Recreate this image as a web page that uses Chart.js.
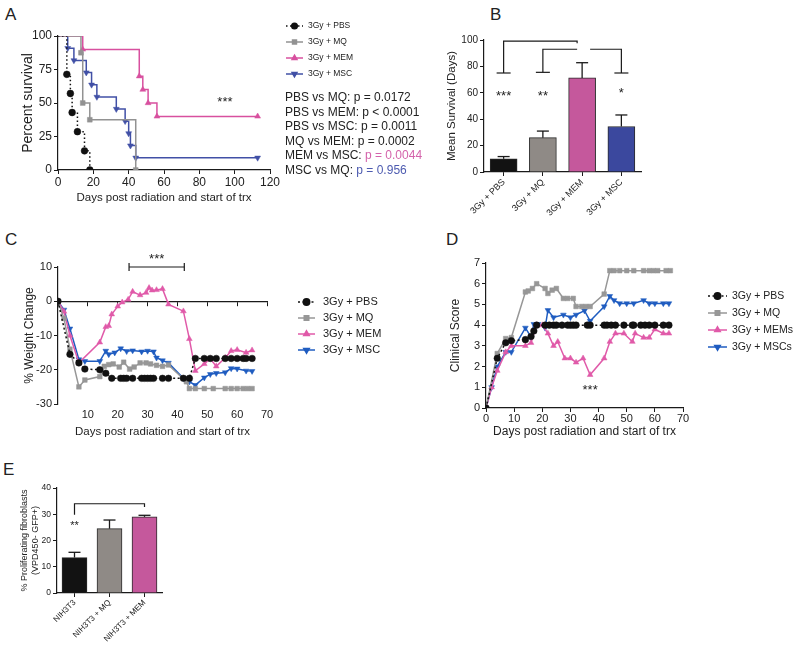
<!DOCTYPE html>
<html>
<head>
<meta charset="utf-8">
<script src="https://cdn.jsdelivr.net/npm/chart.js@4.4.1/dist/chart.umd.min.js"></script>
<style>
  body { margin:0; background:#fff; width:800px; height:651px; overflow:hidden; position:relative;
         font-family:'Liberation Sans', Arial, sans-serif; color:#222; }
  canvas, .lbl, .pv { position:absolute; }
  .lbl { font-size:17px; line-height:20px; }
  .pv { left:285px; top:90px; font-size:12px; line-height:14.6px; white-space:nowrap; }
</style>
</head>
<body>
<div class="lbl" style="left:5px;top:5px">A</div>
<div class="lbl" style="left:490px;top:5px">B</div>
<div class="lbl" style="left:5px;top:230px">C</div>
<div class="lbl" style="left:446px;top:230px">D</div>
<div class="lbl" style="left:3px;top:460px">E</div>

<canvas id="cA" width="480" height="210" style="left:0;top:0"></canvas>
<canvas id="cB" width="230" height="270" style="left:420px;top:0"></canvas>
<canvas id="cC" width="400" height="230" style="left:0;top:215px"></canvas>
<canvas id="cD" width="400" height="230" style="left:400px;top:215px"></canvas>
<canvas id="cE" width="200" height="206" style="left:0;top:445px"></canvas>

<div class="pv">
  PBS vs MQ: p = 0.0172<br>
  PBS vs MEM: p &lt; 0.0001<br>
  PBS vs MSC: p = 0.0011<br>
  MQ vs MEM: p = 0.0002<br>
  MEM vs MSC: <span style="color:#d463ab">p = 0.0044</span><br>
  MSC vs MQ: <span style="color:#4d5bb0">p = 0.956</span>
</div>

<script>
// ---------- data ----------
// A: survival curves [day, % surviving]
const survPBS = [[0,100],[5,71.4],[7,57.1],[8,42.9],[11,28.6],[15,14.3],[18,0]];
const survMQ  = [[0,100],[13,87.5],[14,50],[18,37.5],[44,0]];
const survMEM = [[0,100],[14,90],[46,70],[48,60],[51,50],[56,40],[113,40]];
const survMSC = [[0,100],[5.5,90.9],[9,81.8],[16,72.7],[19,63.6],[22,54.5],[33,45.5],[38,36.4],[40,27.3],[41,18.2],[44,9.1],[113,9.1]];

// B: mean survival
const survGroups = ['3Gy + PBS', '3Gy + MQ', '3Gy + MEM', '3Gy + MSC'];
const meanSurv = [10, 26, 71.3, 34.5];
const meanSurvErr = [1.7, 5, 11.5, 8.7];

// C: % weight change [day, value]
const wPBS = [[0,0],[4,-15.5],[7,-18],[9,-19.8],[14,-20],[16,-21],[18,-22.5],[21,-22.5],[22,-22.5],[23,-22.5],[25,-22.5],[28,-22.5],[29,-22.5],[30,-22.5],[31,-22.5],[32,-22.5],[35,-22.5],[37,-22.5],[42,-22.5],[44,-22.5],[46,-16.7],[49,-16.7],[51,-16.7],[53,-16.7],[56,-16.7],[58,-16.7],[60,-16.7],[62,-16.7],[63,-16.7],[65,-16.7]];
const wMQ  = [[0,0],[2,-5],[4,-14],[7,-25],[9,-23],[14,-22],[15.5,-19],[17,-18.5],[18.5,-18.3],[20.5,-19.2],[22,-17.8],[24,-19.8],[25.5,-19.2],[27.5,-18],[29.5,-18],[31,-18.3],[33,-18.7],[35,-19],[37,-18.6],[43,-23.5],[44,-25.5],[46,-25.5],[49,-25.5],[52,-25.5],[56,-25.5],[58,-25.5],[60,-25.5],[62,-25.5],[63.5,-25.5],[65,-25.5]];
const wMEM = [[0,0],[2,-3],[4,-10],[7,-18],[14,-12],[16,-7.5],[17,-7.2],[18,-3.8],[20,-1.5],[21.5,-0.3],[23.5,0.5],[25,2.8],[27.5,1.8],[29.5,2.5],[30.5,3.9],[31.5,3.2],[33,3.3],[35,3.6],[37,-0.9],[42,-2.9],[44,-11],[46,-20.3],[49,-18.3],[51,-16.8],[53,-19],[56,-16.5],[58,-14.5],[60,-14.2],[63,-15],[65,-14.3]];
const wMSC = [[0,0],[2,-2.5],[4,-8],[7,-17],[9,-17.5],[14,-17.5],[16,-14.5],[17,-15.5],[19,-15],[21,-13.8],[23,-14.6],[25,-14.4],[28,-14.7],[30,-14.5],[32,-14.7],[33,-16.5],[35,-17.3],[37,-18],[42,-22.5],[44,-23.5],[46,-24.5],[49,-22.3],[51,-21.3],[53,-21],[56,-20.8],[58,-19.6],[60,-19.7],[63,-20.3],[65,-20.4]];

// D: clinical score [day, score]
const sPBS = [[0,0],[4,2.4],[7,3.15],[9,3.25],[14,3.3],[16,3.45],[17,3.72],[18,4],[21,4],[22.5,4],[24,4],[25,4],[27,4],[29,4],[30,4],[31,4],[32,4],[36,4],[37,4],[42,4],[43,4],[44.5,4],[46,4],[49,4],[52,4],[52.5,4],[55,4],[56.5,4],[58,4],[60,4],[63,4],[65,4]];
const sMQ  = [[0,0],[4,2.63],[7,3.35],[9,3.4],[14,5.6],[15,5.65],[16.5,5.77],[18,6],[21,5.77],[22,5.53],[23.5,5.69],[25,5.77],[27.5,5.29],[29,5.29],[31,5.29],[32,4.9],[34,4.9],[35.5,4.9],[37,4.9],[42,5.5],[44,6.63],[45.5,6.63],[47.5,6.63],[50,6.63],[52.5,6.63],[56,6.63],[58,6.63],[59.5,6.63],[61,6.63],[64,6.63],[65.5,6.63]];
const sMEM = [[0,0],[2,1],[4,1.8],[7,2.7],[9,3],[14,3],[16,3.15],[18,4],[20,4],[22,3.6],[24,3],[25.5,3.2],[28,2.4],[30,2.4],[32,2.2],[34.5,2.4],[37,1.6],[42,2.4],[44,3.2],[46,3.6],[49,3.6],[52,3.2],[53,3.6],[56,3.4],[58,3.4],[60,3.8],[63,3.6],[65,3.6]];
const sMSC = [[0,0],[2,1],[4,2],[7,2.7],[9,2.7],[14,3.87],[16,3.43],[17,4.05],[18.5,4.05],[21,3.87],[22,4.72],[24,4.37],[27.5,4.5],[30,4.37],[32,4.5],[35,4.7],[37,4.2],[42,4.9],[44,5.4],[45.5,5.2],[47.5,5.05],[50,5.05],[52.5,5.05],[56,5.2],[58,5.05],[60,5.05],[63,5.05],[65,5.05]];

// E: proliferating fibroblasts
const fibGroups = ['NIH3T3', 'NIH3T3 + MQ', 'NIH3T3 + MEM'];
const fibVals = [13.5, 24.5, 29];
const fibErr = [2, 3.3, 0.6];

// ---------- shared setup ----------
const FONT = "'Liberation Sans', Arial, sans-serif";
Chart.defaults.font.family = FONT;
Chart.defaults.color = '#222';
Chart.defaults.animation = false;
Chart.defaults.responsive = false;
Chart.defaults.plugins.legend.display = false;
Chart.defaults.plugins.tooltip.enabled = false;

const INK = '#1a1a1a';
const pts = arr => arr.map(p => ({x: p[0], y: p[1]}));

function linAxis(o) {
  return {
    type: 'linear', min: o.min, max: o.max,
    position: o.position,
    ticks: {stepSize: o.step, font: {size: o.tick}, color: '#222', padding: o.tickPad ?? 2, callback: o.cb, display: o.showTicks !== false},
    grid: {display: o.grid !== false, drawOnChartArea: false, tickLength: 4, color: INK},
    border: {display: o.border !== false, color: INK, width: 1.2},
    title: {display: !!o.title, text: o.title, font: {size: o.tsize}, color: '#222', padding: o.tpad || 0},
    afterFit: s => { if (o.size) { if (o.isX) s.height = o.size; else s.width = o.size; } }
  };
}

function catAxis(size, fontSize) {
  return {
    type: 'category',
    ticks: {font: {size: fontSize}, color: '#222', maxRotation: 45, minRotation: 45, padding: 1, autoSkip: false},
    grid: {display: true, drawOnChartArea: false, tickLength: 4, color: INK, offset: false},
    border: {color: INK, width: 1.2},
    afterFit: s => { s.height = size; }
  };
}

function lineSet(label, data, color, style, rot, dash, stepped) {
  return {
    label, data: pts(data), borderColor: color, backgroundColor: color,
    pointBackgroundColor: color, pointBorderColor: color,
    borderWidth: 1.5, borderDash: dash || [], stepped: stepped || false,
    pointStyle: style, pointRotation: rot || 0, pointRadius: 3.3, pointBorderWidth: 0.5,
    tension: 0, fill: false
  };
}

function poly(ctx, list, w) {
  ctx.strokeStyle = INK; ctx.lineWidth = w || 1.2; ctx.setLineDash([]);
  ctx.beginPath();
  list.forEach((p, i) => i ? ctx.lineTo(p[0], p[1]) : ctx.moveTo(p[0], p[1]));
  ctx.stroke();
}

function stars(ctx, txt, x, y, size) {
  ctx.fillStyle = '#222'; ctx.font = size + 'px ' + FONT;
  ctx.textAlign = 'center'; ctx.textBaseline = 'middle';
  ctx.fillText(txt, x, y + size * 0.25);
}

function drawLegend(chart, x, y0, dy, len, tx, size, r) {
  const ctx = chart.ctx;
  chart.data.datasets.forEach((ds, i) => {
    const y = y0 + i * dy;
    ctx.strokeStyle = ds.borderColor; ctx.lineWidth = 1.5; ctx.setLineDash(ds.borderDash || []);
    ctx.beginPath(); ctx.moveTo(x, y); ctx.lineTo(x + len, y); ctx.stroke();
    ctx.setLineDash([]);
    ctx.fillStyle = ds.borderColor; ctx.strokeStyle = ds.borderColor;
    Chart.helpers.drawPoint(ctx, {pointStyle: ds.pointStyle, rotation: ds.pointRotation, radius: r, borderWidth: 0.5}, x + len / 2, y);
    ctx.fillStyle = '#222'; ctx.font = size + 'px ' + FONT;
    ctx.textAlign = 'left'; ctx.textBaseline = 'middle';
    ctx.fillText(ds.label, tx, y);
  });
}

function errorBars(chart, vals, errs, cap) {
  const ctx = chart.ctx, y = chart.scales.y;
  chart.getDatasetMeta(0).data.forEach((bar, i) => {
    const top = y.getPixelForValue(vals[i] + errs[i]);
    poly(ctx, [[bar.x, bar.y], [bar.x, top]], 1.3);
    poly(ctx, [[bar.x - cap, top], [bar.x + cap, top]], 1.3);
  });
}

// ---------- A: Kaplan-Meier ----------
new Chart(document.getElementById('cA'), {
  type: 'line',
  data: {datasets: [
    lineSet('3Gy + PBS', survPBS, '#111', 'circle', 0, [1.5, 2.5], 'before'),
    lineSet('3Gy + MQ', survMQ, '#929292', 'rect', 0, null, 'before'),
    lineSet('3Gy + MEM', survMEM, '#d8509f', 'triangle', 0, null, 'before'),
    lineSet('3Gy + MSC', survMSC, '#4150a6', 'triangle', 180, null, 'before')
  ].map(ds => Object.assign(ds, {pointRadius: c => c.dataIndex === 0 ? 0 : 3.4}))},
  options: {
    layout: {padding: {left: 0, top: 36, right: 210, bottom: 0}},
    scales: {
      x: linAxis({min: 0, max: 120, step: 20, tick: 12, tickPad: 1, title: 'Days post radiation and start of trx', tsize: 11.5, tpad: 5, size: 40, isX: true}),
      y: linAxis({min: 0, max: 100, step: 25, tick: 12, title: 'Percent survival', tsize: 14, tpad: 20, size: 58})
    }
  },
  plugins: [{id: 'extrasA', afterDraw(chart) {
    const ctx = chart.ctx, x = chart.scales.x, y = chart.scales.y;
    ctx.save();
    stars(ctx, '***', x.getPixelForValue(94.5), y.getPixelForValue(53), 13);
    drawLegend(chart, 286, 26, 16, 17, 308, 8.5, 2.8);
    ctx.restore();
  }}]
});

// ---------- B: mean survival ----------
new Chart(document.getElementById('cB'), {
  type: 'bar',
  data: {labels: survGroups, datasets: [{
    data: meanSurv, backgroundColor: ['#121212', '#8f8a86', '#c5589c', '#3b489e'],
    borderColor: '#2a2a2a', borderWidth: 1, barThickness: 27
  }]},
  options: {
    layout: {padding: {left: 0, top: 40, right: 9, bottom: 0}},
    scales: {
      x: catAxis(98, 9),
      y: linAxis({min: 0, max: 100, step: 20, tick: 10, title: 'Mean Survival (Days)', tsize: 11.5, tpad: 25, size: 64})
    }
  },
  plugins: [{id: 'extrasB', afterDraw(chart) {
    const ctx = chart.ctx, x = chart.scales.x, y = chart.scales.y;
    const X = i => x.getPixelForValue(i), Y = v => y.getPixelForValue(v);
    ctx.save();
    errorBars(chart, meanSurv, meanSurvErr, 6);
    poly(ctx, [[X(0), Y(75)], [X(0), Y(99.2)], [X(2) - 5, Y(99.2)], [X(2) - 5, Y(97.5)]]);
    poly(ctx, [[X(0) - 7, Y(75)], [X(0) + 7, Y(75)]]);
    poly(ctx, [[X(1), Y(75.5)], [X(1), Y(93)], [X(2) - 5, Y(93)]]);
    poly(ctx, [[X(1) - 7, Y(75.5)], [X(1) + 7, Y(75.5)]]);
    poly(ctx, [[X(2) + 8, Y(93)], [X(3), Y(93)], [X(3), Y(75)]]);
    poly(ctx, [[X(3) - 7, Y(75)], [X(3) + 7, Y(75)]]);
    stars(ctx, '***', X(0), Y(60), 13);
    stars(ctx, '**', X(1), Y(60), 13);
    stars(ctx, '*', X(3), Y(62), 13);
    ctx.restore();
  }}]
});

// ---------- C: weight change ----------
new Chart(document.getElementById('cC'), {
  type: 'line',
  data: {datasets: [
    lineSet('3Gy + PBS', wPBS, '#111', 'circle', 0, [2, 2.5]),
    lineSet('3Gy + MQ', wMQ, '#979797', 'rect'),
    lineSet('3Gy + MEM', wMEM, '#e05aa9', 'triangle'),
    lineSet('3Gy + MSC', wMSC, '#1f5cc0', 'triangle', 180)
  ]},
  options: {
    layout: {padding: {left: 0, top: 52, right: 133, bottom: 0}},
    scales: {
      x: linAxis({min: 0, max: 70, step: 10, tick: 11, tickPad: 0, grid: false, border: false, cb: v => v === 0 ? '' : v,
                  title: 'Days post radiation and start of trx', tsize: 11.5, tpad: 6, size: 41, isX: true}),
      x2: Object.assign(linAxis({min: 0, max: 70, step: 10, showTicks: false, position: {y: 0}}), {axis: 'x'}),
      y: linAxis({min: -30, max: 10, step: 10, tick: 11, title: '% Weight Change', tsize: 12, tpad: 22, size: 58})
    }
  },
  plugins: [{id: 'extrasC', afterDraw(chart) {
    const ctx = chart.ctx, x = chart.scales.x, y = chart.scales.y;
    const a = x.getPixelForValue(23.8), b = x.getPixelForValue(42.3), yy = y.getPixelForValue(10);
    ctx.save();
    poly(ctx, [[a, yy], [b, yy]]);
    poly(ctx, [[a, yy - 4], [a, yy + 4]]);
    poly(ctx, [[b, yy - 4], [b, yy + 4]]);
    stars(ctx, '***', (a + b) / 2, yy - 11, 13);
    drawLegend(chart, 298, 87, 16, 17, 323, 11, 3.2);
    ctx.restore();
  }}]
});

// ---------- D: clinical score ----------
new Chart(document.getElementById('cD'), {
  type: 'line',
  data: {datasets: [
    lineSet('3Gy + PBS', sPBS, '#111', 'circle', 0, [2, 2.5]),
    lineSet('3Gy + MQ', sMQ, '#979797', 'rect'),
    lineSet('3Gy + MEMs', sMEM, '#e05aa9', 'triangle'),
    lineSet('3Gy + MSCs', sMSC, '#1f5cc0', 'triangle', 180)
  ]},
  options: {
    layout: {padding: {left: 40, top: 48, right: 117, bottom: 0}},
    scales: {
      x: linAxis({min: 0, max: 70, step: 10, tick: 11, tickPad: 0, title: 'Days post radiation and start of trx', tsize: 12, tpad: 6, size: 37, isX: true}),
      y: linAxis({min: 0, max: 7, step: 1, tick: 11, title: 'Clinical Score', tsize: 12, tpad: 8, size: 46})
    }
  },
  plugins: [{id: 'extrasD', afterDraw(chart) {
    const ctx = chart.ctx, x = chart.scales.x, y = chart.scales.y;
    ctx.save();
    stars(ctx, '***', x.getPixelForValue(37), y.getPixelForValue(1), 13);
    drawLegend(chart, 308, 81, 17, 19, 332, 10.5, 3.2);
    ctx.restore();
  }}]
});

// ---------- E: proliferating fibroblasts ----------
new Chart(document.getElementById('cE'), {
  type: 'bar',
  data: {labels: fibGroups, datasets: [{
    data: fibVals, backgroundColor: ['#121212', '#8f8a86', '#c5589c'],
    borderColor: '#2a2a2a', borderWidth: 1, barThickness: 25
  }]},
  options: {
    layout: {padding: {left: 0, top: 43, right: 38, bottom: 0}},
    scales: {
      x: catAxis(58, 8),
      y: linAxis({min: 0, max: 40, step: 10, tick: 8.5, title: ['% Proliferating fibroblasts', '(VPD450- GFP+)'], tsize: 9, tpad: 19, size: 57})
    }
  },
  plugins: [{id: 'extrasE', afterDraw(chart) {
    const ctx = chart.ctx, x = chart.scales.x, y = chart.scales.y;
    const X = i => x.getPixelForValue(i), Y = v => y.getPixelForValue(v);
    ctx.save();
    errorBars(chart, fibVals, fibErr, 6);
    poly(ctx, [[X(0), Y(29.8)], [X(0), Y(34)], [X(2), Y(34)], [X(2), Y(32.8)]]);
    stars(ctx, '**', X(0), Y(26.5), 11);
    ctx.restore();
  }}]
});
</script>
</body>
</html>
